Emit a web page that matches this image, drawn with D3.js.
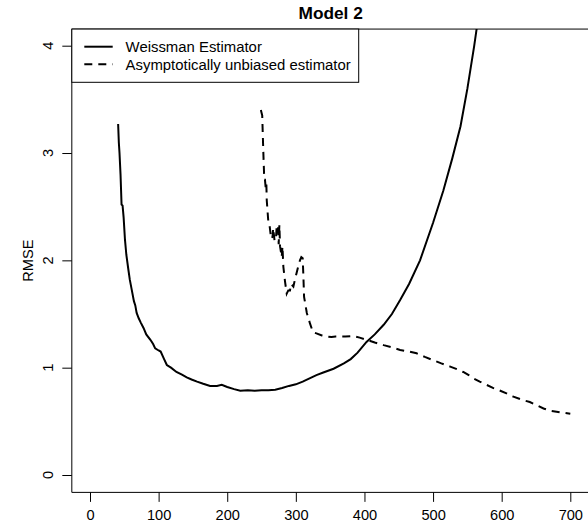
<!DOCTYPE html>
<html>
<head>
<meta charset="utf-8">
<script src="https://cdn.jsdelivr.net/npm/d3@7"></script>
<style>
  body { margin: 0; background: #fff; }
  text { font-family: "Liberation Sans", Arial, sans-serif; fill: #000; }
</style>
</head>
<body>
<div id="chart"></div>
<script>
// data
var weissX = [41, 42, 43, 44.5, 46, 47.5, 49, 51, 53, 56, 58, 61, 64, 66, 68, 71, 74, 78, 82, 88,
  92, 95, 100, 103, 108, 112, 118, 126, 134, 141, 148, 156, 165, 175, 185, 192, 200, 210, 219, 230,
  240, 250, 260, 270, 280, 290, 300, 310, 320, 330, 340, 355, 370, 380, 390, 403, 415, 428, 440, 452,
  465, 481, 500, 515, 528, 540, 550, 560, 570, 580, 600]
var weissY = [3.27, 3.10, 3.00, 2.80, 2.52, 2.51, 2.40, 2.19, 2.05, 1.91, 1.82, 1.72, 1.62, 1.58, 1.51, 1.46, 1.42, 1.37, 1.31, 1.26,
  1.22, 1.18, 1.16, 1.15, 1.08, 1.025, 1.00, 0.96, 0.935, 0.91, 0.89, 0.87, 0.85, 0.83, 0.83, 0.84, 0.82, 0.80, 0.786, 0.79,
  0.785, 0.79, 0.79, 0.795, 0.81, 0.83, 0.845, 0.87, 0.90, 0.93, 0.955, 0.99, 1.04, 1.08, 1.14, 1.24, 1.31, 1.40, 1.50, 1.63,
  1.78, 2.0, 2.35, 2.65, 2.95, 3.25, 3.6, 4.0, 4.45, 5.0, 6.3]

var unbX = [249, 251, 252.5, 254, 255, 256, 257, 257.6, 260, 262, 264, 266, 267, 269, 271, 272, 274, 275, 276, 277,
  279.4, 280.5, 281.8, 284.3, 286.7, 289, 291.5, 293, 296.4, 299, 301, 303, 306, 308, 310, 311, 312, 316, 320.7, 325,
  330, 338, 345, 352, 358, 364, 372, 384, 393, 403, 415, 428, 440, 452, 465, 476, 488, 500, 512, 525,
  535, 544, 552, 559, 568, 578, 588, 598, 607, 617, 630, 641, 651, 661, 670, 680, 690, 700]
var unbY = [3.40, 3.35, 3.03, 2.75, 2.75, 2.68, 2.72, 2.56, 2.35, 2.31, 2.20, 2.22, 2.30, 2.18, 2.20, 2.31, 2.33, 2.15, 2.33, 2.13,
  2.03, 2.13, 1.94, 1.80, 1.69, 1.72, 1.72, 1.78, 1.755, 1.83, 1.88, 1.93, 2.0, 2.03, 2.02, 1.85, 1.66, 1.51, 1.41, 1.33,
  1.32, 1.30, 1.29, 1.285, 1.29, 1.29, 1.29, 1.295, 1.28, 1.26, 1.235, 1.21, 1.19, 1.165, 1.15, 1.134, 1.10, 1.07, 1.04, 1.01,
  0.985, 0.96, 0.93, 0.90, 0.87, 0.84, 0.81, 0.785, 0.76, 0.73, 0.70, 0.68, 0.65, 0.62, 0.60, 0.59, 0.58, 0.57]

var xTicks = [0, 100, 200, 300, 400, 500, 600, 700]
var yTicks = [0, 1, 2, 3, 4]
var legendLabels = ["Weissman Estimator", "Asymptotically unbiased estimator"]

var width = 588, height = 528

var svg = d3.select("#chart")
    .append("svg")
    .attr("width", width)
    .attr("height", height)

var x = d3.scaleLinear().domain([0, 700]).range([90, 570.3])
var y = d3.scaleLinear().domain([0, 4]).range([475, 45.7])

// plot region (R's usr, 4% padding)
var boxL = x(-26.5), boxR = x(728), boxT = y(4.155), boxB = y(-0.162)

svg.append("clipPath").attr("id", "clip")
    .append("rect")
    .attr("x", boxL).attr("y", boxT)
    .attr("width", boxR - boxL).attr("height", boxB - boxT)

var weiss = weissX.map(function (d, i) { return [d, weissY[i]] })
var unb = unbX.map(function (d, i) { return [d, unbY[i]] })

var line = d3.line()
    .x(function (d) { return x(d[0]) })
    .y(function (d) { return y(d[1]) })

var lines = svg.append("g").attr("clip-path", "url(#clip)")
lines.append("path")
    .datum(weiss)
    .attr("d", line)
    .attr("fill", "none")
    .attr("stroke", "#000")
    .attr("stroke-width", 2)
lines.append("path")
    .datum(unb)
    .attr("d", line)
    .attr("fill", "none")
    .attr("stroke", "#000")
    .attr("stroke-width", 2)
    .attr("stroke-dasharray", "8,6")

// box
svg.append("path")
    .attr("d", "M" + boxR + "," + boxT + "H" + boxL + "V" + boxB + "H" + boxR)
    .attr("fill", "none")
    .attr("stroke", "#000")
    .attr("stroke-width", 1)

// x axis
var xAxis = svg.append("g").attr("transform", "translate(0," + boxB + ")")
    .call(d3.axisBottom(x).tickValues(xTicks).tickSize(9.5).tickPadding(8).tickSizeOuter(0))
xAxis.select(".domain").remove()
xAxis.selectAll("text").style("font-size", "14.6px").style("font-family", "Liberation Sans, Arial, sans-serif")

// y axis, labels rotated as in R
var yAxis = svg.append("g").attr("transform", "translate(" + boxL + ",0)")
    .call(d3.axisLeft(y).tickValues(yTicks).tickSize(9.5).tickFormat(""))
yAxis.select(".domain").remove()
svg.append("g").selectAll("text")
    .data(yTicks)
    .enter()
    .append("text")
    .attr("transform", function (d) { return "translate(53," + y(d) + ") rotate(-90)" })
    .attr("text-anchor", "middle")
    .style("font-size", "14.6px")
    .text(function (d) { return d })

// axis title
svg.append("text")
    .attr("transform", "translate(33," + ((boxT + boxB) / 2) + ") rotate(-90)")
    .attr("text-anchor", "middle")
    .style("font-size", "14.6px")
    .text("RMSE")

// main title
svg.append("text")
    .attr("x", (boxL + boxR) / 2)
    .attr("y", 19)
    .attr("text-anchor", "middle")
    .style("font-size", "17.3px")
    .style("font-weight", "bold")
    .text("Model 2")

// legend
var legend = svg.append("g")
legend.append("rect")
    .attr("x", boxL).attr("y", boxT)
    .attr("width", 358.7 - boxL).attr("height", 82.3 - boxT)
    .attr("fill", "#fff")
    .attr("stroke", "#000")
var legY = [46.7, 64.3]
legendLabels.forEach(function (lab, i) {
    legend.append("line")
        .attr("x1", 84.3).attr("x2", 112.7)
        .attr("y1", legY[i]).attr("y2", legY[i])
        .attr("stroke", "#000")
        .attr("stroke-width", 2)
        .attr("stroke-dasharray", i == 1 ? "8,6" : null)
    legend.append("text")
        .attr("x", 125.6)
        .attr("y", legY[i])
        .attr("dy", "0.35em")
        .style("font-size", "14.9px")
        .text(lab)
})
</script>
</body>
</html>
